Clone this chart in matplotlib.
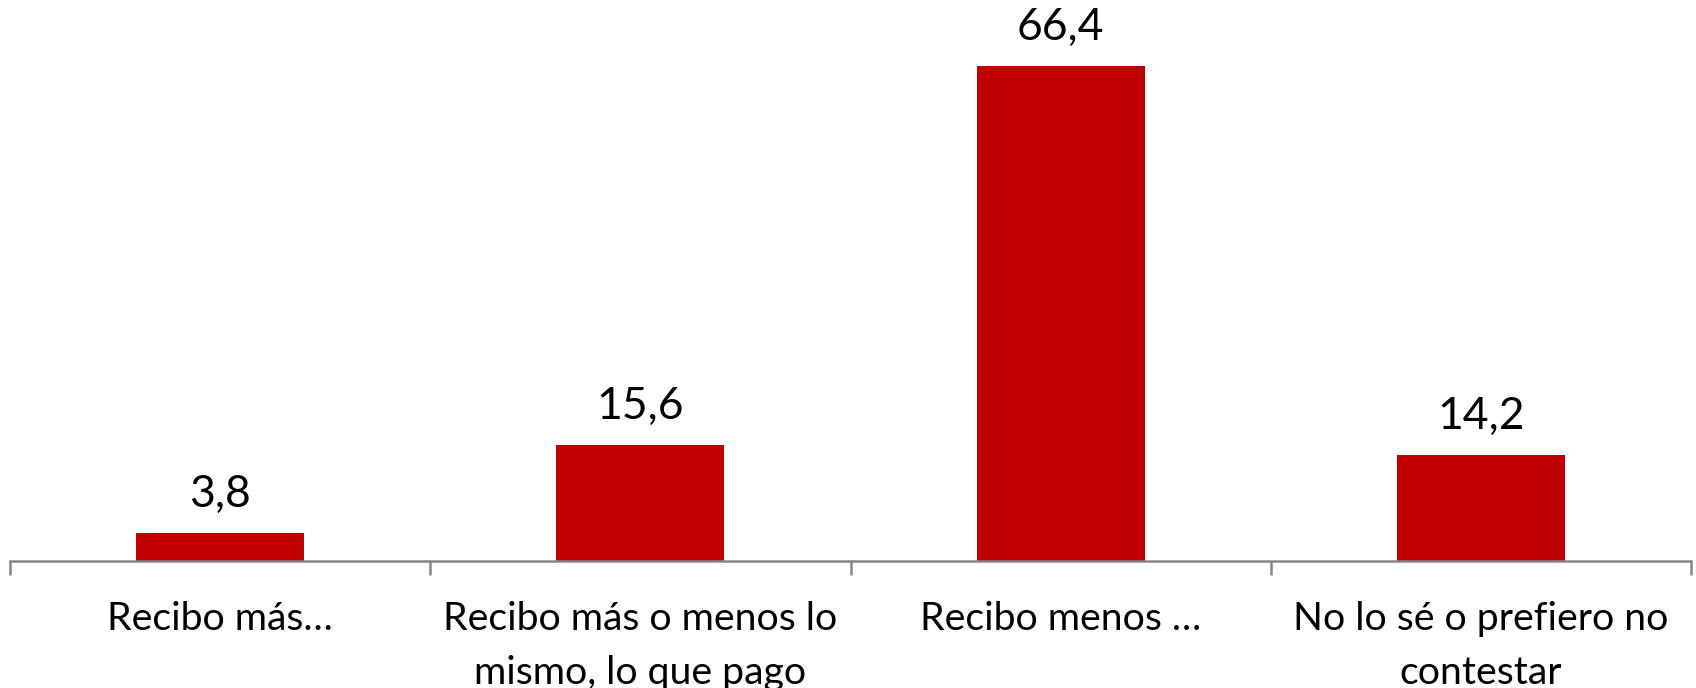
import matplotlib.pyplot as plt
from matplotlib.ticker import FixedLocator

# Data
categories = ["Recibo más…", "Recibo más o menos lo\nmismo, lo que pago",
              "Recibo menos …", "No lo sé o prefiero no\ncontestar"]
values = [3.8, 15.6, 66.4, 14.2]
value_labels = ["3,8", "15,6", "66,4", "14,2"]

plt.rcParams['font.family'] = ['Lato', 'DejaVu Sans']

fig = plt.figure(figsize=(16.96, 6.88), dpi=100)
ax = fig.add_axes([10 / 1696, 127 / 688, 1681 / 1696, 561 / 688])

x = range(len(categories))
bars = ax.bar(x, values, width=0.4, color='#C00000')

for b, lab in zip(bars, value_labels):
    ax.annotate(lab, (b.get_x() + b.get_width() / 2, b.get_height()),
                xytext=(0, 13), textcoords='offset points',
                ha='center', va='bottom', fontsize=32, color='black')

ax.set_xlim(-0.5, len(categories) - 0.5)
ax.set_ylim(0, 75.3)

for s in ['top', 'right', 'left']:
    ax.spines[s].set_visible(False)
ax.spines['bottom'].set_color('#868686')
ax.spines['bottom'].set_linewidth(1.8)
ax.set_yticks([])

ax.set_xticks(list(x))
ax.set_xticklabels(categories, fontsize=28.3, linespacing=1.6)
ax.tick_params(axis='x', which='major', length=0, pad=29)
ax.xaxis.set_minor_locator(FixedLocator([i - 0.5 for i in range(len(categories) + 1)]))
ax.tick_params(axis='x', which='minor', length=10, width=1.8, color='#868686')
for t in ax.get_xticklabels():
    t.set_verticalalignment('top')

fig.savefig('out.png', dpi=100)
